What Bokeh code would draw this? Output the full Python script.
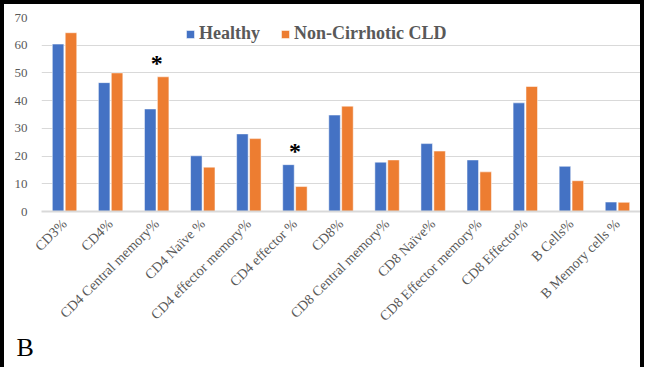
import math
from bokeh.plotting import figure
from bokeh.models import ColumnDataSource, FactorRange, Range1d, FixedTicker, Title, Legend, LegendItem
from bokeh.transform import dodge
from bokeh.core.properties import value
from bokeh.embed import file_html
from bokeh.resources import INLINE

categories = ["CD3%", "CD4%", "CD4 Central memory%", "CD4 Naïve %", "CD4 effector memory%",
              "CD4 effector %", "CD8%", "CD8 Central memory%", "CD8 Naïve%",
              "CD8 Effector memory%", "CD8 Effector%", "B Cells%", "B Memory cells %"]
healthy = [60.4, 46.5, 37.0, 20.1, 28.0, 16.9, 34.8, 17.8, 24.5, 18.6, 39.2, 16.3, 3.4]
non_cirrhotic = [64.5, 50.0, 48.6, 16.0, 26.3, 9.0, 38.0, 18.6, 21.8, 14.3, 45.1, 11.1, 3.3]
y_ticks = [0, 10, 20, 30, 40, 50, 60, 70]
sig_categories = ["CD4 Central memory%", "CD4 effector %"]
series_names = ["Healthy", "Non-Cirrhotic CLD"]
panel_label = "B"

BLUE = "#4472C4"
ORANGE = "#ED7D31"
GREY = "#595959"
GRID = "#D9D9D9"

src = ColumnDataSource(dict(cat=categories, h=healthy, n=non_cirrhotic))

# canvas 644x367 with a 4px CSS frame on top/left/right (frame runs off the bottom as in the reference)
p = figure(width=644, height=367, x_range=FactorRange(*categories), y_range=Range1d(0, 70),
           output_backend="svg", toolbar_location=None,
           min_border_left=37, min_border_right=8, min_border_top=13, min_border_bottom=160)
p.styles = {"border-top": "4px solid black", "border-left": "4px solid black",
            "border-right": "4px solid black", "border-bottom": "none"}
p.outline_line_color = None

r1 = p.vbar(x=dodge("cat", -0.14, range=p.x_range), top="h", width=0.25, source=src,
            fill_color=BLUE, line_color="white", line_width=0.5)
r2 = p.vbar(x=dodge("cat", 0.14, range=p.x_range), top="n", width=0.25, source=src,
            fill_color=ORANGE, line_color="white", line_width=0.5)

# significance markers
sig_x, sig_y = [], []
for c in sig_categories:
    i = categories.index(c)
    sig_x.append(c)
    sig_y.append(max(healthy[i], non_cirrhotic[i]) + 0.3)
sig_src = ColumnDataSource(dict(x=sig_x, y=sig_y, t=["*"] * len(sig_x)))
p.text(x="x", y="y", text="t", source=sig_src, text_font=value("Liberation Serif"),
       text_font_size="24px", text_font_style="bold", text_color="black",
       text_align="center", text_baseline="bottom")

legend = Legend(items=[LegendItem(label=series_names[0], renderers=[r1]),
                       LegendItem(label=series_names[1], renderers=[r2])],
                orientation="horizontal", location=(144, 167))
legend.label_text_font = "Liberation Serif"
legend.label_text_font_size = "18px"
legend.label_text_font_style = "bold"
legend.label_text_color = GREY
legend.glyph_width = 10
legend.glyph_height = 10
legend.spacing = 20
legend.padding = 0
legend.margin = 0
legend.label_standoff = 4
legend.border_line_color = None
legend.background_fill_alpha = 0
p.add_layout(legend)

p.yaxis.ticker = FixedTicker(ticks=y_ticks)
p.yaxis.axis_line_color = None
p.yaxis.major_tick_line_color = None
p.yaxis.minor_tick_line_color = None
p.yaxis.major_label_text_font = "Liberation Serif"
p.yaxis.major_label_text_font_size = "13px"
p.yaxis.major_label_text_color = GREY
p.yaxis.major_label_standoff = 8

p.xaxis.axis_line_color = GRID
p.xaxis.axis_line_width = 2
p.xaxis.major_tick_line_color = None
p.xaxis.minor_tick_line_color = None
p.xaxis.major_label_orientation = math.pi / 4
p.xaxis.major_label_text_font = "Liberation Serif"
p.xaxis.major_label_text_font_size = "14px"
p.xaxis.major_label_text_color = GREY
p.xaxis.major_label_standoff = 4

p.xgrid.grid_line_color = None
p.ygrid.grid_line_color = GRID
p.ygrid.grid_line_width = 1

# panel letter in a side panel below the axis (not clipped by the frame)
p.add_layout(Title(text=panel_label, align="left", vertical_align="top", offset=-25, standoff=0,
                   text_font="Liberation Serif", text_font_size="26px",
                   text_font_style="normal", text_color="black"), "below")

open("out.html", "w").write(file_html(p, INLINE))
